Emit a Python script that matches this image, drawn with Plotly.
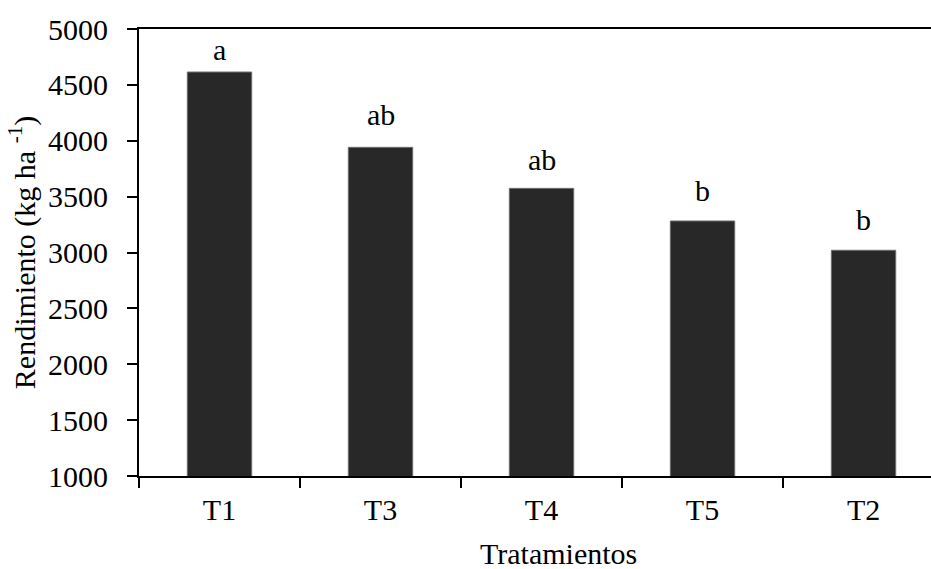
import plotly.graph_objects as go

# Grain yield by treatment, ordered from highest to lowest
tratamientos = ["T1", "T3", "T4", "T5", "T2"]
rendimiento = [4615, 3941, 3574, 3282, 3020]

# Mean-separation letters and the height (kg/ha) where each one sits
letras = ["a", "ab", "ab", "b", "b"]
letras_y = [4650, 4070, 3665, 3390, 3130]

y_ticks = [1000, 1500, 2000, 2500, 3000, 3500, 4000, 4500, 5000]

FONT = "Liberation Serif"
FS = 30

fig = go.Figure()
fig.add_trace(go.Bar(
    x=tratamientos,
    y=rendimiento,
    width=0.4,
    marker=dict(color="#282828", line=dict(color="#6e6e6e", width=1)),
    showlegend=False,
))

for cat, txt, yv in zip(tratamientos, letras, letras_y):
    fig.add_annotation(
        x=cat, y=yv, text=txt, showarrow=False,
        xanchor="center", yanchor="bottom",
        font=dict(family=FONT, size=FS, color="black"),
    )

fig.add_annotation(
    x=0.53, y=-0.174, xref="paper", yref="paper",
    text="Tratamientos", showarrow=False,
    xanchor="center", yanchor="middle",
    font=dict(family=FONT, size=FS, color="black"),
)

fig.update_layout(
    width=931, height=569,
    margin=dict(l=139, r=0, t=29, b=93),
    paper_bgcolor="white", plot_bgcolor="white",
    font=dict(family=FONT, size=FS, color="black"),
    bargap=0.6,
)

fig.update_xaxes(
    type="category",
    range=[-0.5, 4.419],
    showline=True, linecolor="black", linewidth=2, mirror=True,
    ticks="outside", ticklen=10, tickwidth=2, tickcolor="black",
    tickson="boundaries",
    ticklabelstandoff=6,
    showgrid=False, zeroline=False,
    tickfont=dict(family=FONT, size=FS, color="black"),
)

fig.update_yaxes(
    range=[1000, 5000],
    tickvals=y_ticks,
    ticktext=[str(v) for v in y_ticks],
    showline=True, linecolor="black", linewidth=2,
    ticks="outside", ticklen=10, tickwidth=2, tickcolor="black",
    ticklabelstandoff=13,
    showgrid=False, zeroline=False,
    tickfont=dict(family=FONT, size=FS, color="black"),
    title=dict(
        text="Rendimiento (kg ha <sup>-1</sup>)",
        font=dict(family=FONT, size=FS, color="black"),
        standoff=4,
    ),
)

fig.write_html("out.html")
